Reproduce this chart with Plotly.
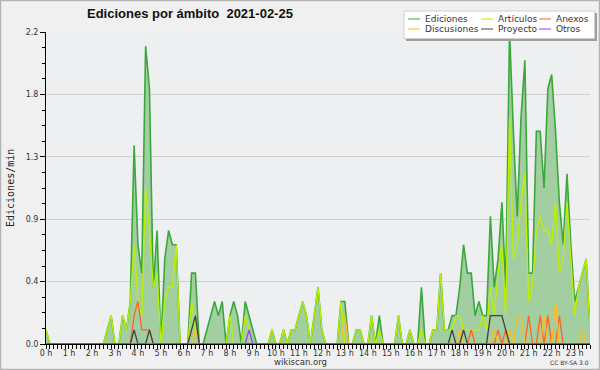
import plotly.graph_objects as go

# ---- data: one value per 10-minute step (index 0 = 00:00) ----
ediciones = [
    0.1, 0, 0, 0, 0, 0,            # 0 h
    0, 0, 0, 0, 0, 0,              # 1 h
    0, 0, 0, 0, 0.1, 0.2,          # 2 h
    0, 0, 0.2, 0.1, 0.3, 1.4,      # 3 h
    0.7, 0.5, 2.1, 1.8, 0.4, 0.8,  # 4 h
    0, 0.6, 0.8, 0.7, 0.7, 0,      # 5 h
    0, 0, 0.5, 0.5, 0, 0,          # 6 h
    0.1, 0.2, 0.3, 0.2, 0.3, 0,    # 7 h
    0.2, 0.3, 0.2, 0, 0.3, 0.2,    # 8 h
    0.1, 0, 0, 0, 0, 0.1,          # 9 h
    0, 0, 0.1, 0, 0.1, 0.1,        # 10 h
    0.2, 0.3, 0.2, 0, 0.2, 0.4,    # 11 h
    0.1, 0, 0, 0, 0, 0.3,          # 12 h
    0.3, 0, 0, 0.1, 0.1, 0,        # 13 h
    0, 0.2, 0, 0.2, 0, 0,          # 14 h
    0, 0, 0.2, 0, 0, 0.1,          # 15 h
    0, 0, 0.4, 0, 0, 0.1,          # 16 h
    0.1, 0.5, 0.1, 0.1, 0.2, 0.2,  # 17 h
    0.4, 0.7, 0.5, 0.5, 0.2, 0.3,  # 18 h
    0.2, 0.2, 0.9, 0.4, 0.6, 1.0,  # 19 h
    0.4, 2.2, 1.5, 0.9, 1.6, 2.0,  # 20 h
    0.5, 0.5, 1.5, 1.5, 1.1, 1.8,  # 21 h
    1.9, 1.5, 1.0, 0.7, 1.2, 0.7,  # 22 h
    0.3, 0.4, 0.5, 0.6, 0.1,       # 23 h
]
articulos = [
    0.1, 0, 0, 0, 0, 0,
    0, 0, 0, 0, 0, 0,
    0, 0, 0, 0, 0.1, 0.2,
    0, 0, 0.2, 0.1, 0.3, 0.7,
    0.3, 0.2, 1.1, 0.8, 0.4, 0.5,
    0, 0.3, 0.4, 0.4, 0.7, 0,
    0, 0, 0.3, 0.1, 0, 0,
    0, 0, 0, 0, 0, 0,
    0.2, 0, 0, 0, 0.2, 0.1,
    0, 0, 0, 0, 0, 0.1,
    0, 0, 0.1, 0, 0.1, 0.1,
    0.2, 0.3, 0.2, 0, 0.2, 0.4,
    0.1, 0, 0, 0, 0, 0.3,
    0, 0, 0, 0.1, 0.1, 0,
    0, 0.2, 0, 0.1, 0, 0,
    0, 0, 0.2, 0, 0, 0.1,
    0, 0, 0.1, 0, 0, 0.1,
    0.1, 0.5, 0.1, 0.1, 0.1, 0.2,
    0.2, 0.1, 0.1, 0.1, 0.1, 0.1,
    0.2, 0.1, 0.4, 0.2, 0.5, 0.7,
    0.2, 1.6, 0.6, 0.7, 1.0, 1.2,
    0.3, 0.4, 0.8, 0.9, 0.8, 0.8,
    0.7, 1.0, 0.5, 0.6, 1.0, 0.6,
    0.2, 0.4, 0.5, 0.6, 0.1,
]
anexos = [
    0, 0, 0, 0, 0, 0,
    0, 0, 0, 0, 0, 0,
    0, 0, 0, 0, 0, 0,
    0, 0, 0, 0, 0, 0.2,
    0.3, 0.1, 0.1, 0.1, 0, 0,
    0, 0, 0, 0, 0, 0,
    0, 0, 0, 0, 0, 0,
    0, 0, 0, 0, 0, 0,
    0, 0, 0, 0, 0, 0,
    0, 0, 0, 0, 0, 0,
    0, 0, 0, 0, 0, 0,
    0, 0, 0, 0, 0, 0,
    0, 0, 0, 0, 0, 0,
    0, 0, 0, 0, 0, 0,
    0, 0, 0, 0, 0, 0,
    0, 0, 0, 0, 0, 0,
    0, 0, 0, 0, 0, 0,
    0, 0, 0, 0, 0, 0,
    0, 0, 0, 0.1, 0, 0,
    0, 0, 0, 0, 0.1, 0,
    0.1, 0, 0, 0, 0, 0,
    0.2, 0, 0, 0.2, 0, 0.2,
    0, 0, 0.2, 0, 0, 0,
    0, 0, 0, 0, 0,
]
discusiones = [
    0, 0, 0, 0, 0, 0,
    0, 0, 0, 0, 0, 0,
    0, 0, 0, 0, 0, 0,
    0, 0, 0, 0, 0, 0,
    0, 0, 0, 0, 0, 0,
    0, 0, 0, 0, 0, 0,
    0, 0, 0, 0.1, 0, 0,
    0, 0, 0, 0, 0, 0,
    0, 0, 0, 0, 0, 0,
    0, 0, 0, 0, 0, 0,
    0, 0, 0, 0, 0, 0,
    0, 0, 0, 0, 0, 0,
    0, 0, 0, 0, 0, 0,
    0.2, 0, 0, 0, 0, 0,
    0, 0, 0, 0, 0, 0,
    0, 0, 0, 0, 0, 0,
    0, 0, 0, 0, 0, 0,
    0, 0, 0, 0, 0, 0,
    0.1, 0, 0, 0, 0, 0,
    0, 0, 0, 0.1, 0, 0,
    0, 0.1, 0, 0.2, 0.2, 0,
    0, 0, 0, 0, 0.2, 0,
    0, 0.3, 0, 0, 0, 0,
    0, 0, 0.1, 0, 0,
]
proyecto = [
    0, 0, 0, 0, 0, 0,
    0, 0, 0, 0, 0, 0,
    0, 0, 0, 0, 0, 0,
    0, 0, 0, 0, 0, 0.1,
    0, 0, 0, 0.1, 0, 0,
    0, 0, 0, 0, 0, 0,
    0, 0, 0.1, 0.2, 0, 0,
    0, 0, 0, 0, 0, 0,
    0, 0, 0, 0, 0, 0,
    0, 0, 0, 0, 0, 0,
    0, 0, 0, 0, 0, 0,
    0, 0, 0, 0, 0, 0,
    0, 0, 0, 0, 0, 0,
    0, 0, 0, 0, 0, 0,
    0, 0, 0, 0, 0, 0,
    0, 0, 0, 0, 0, 0,
    0, 0, 0, 0, 0, 0,
    0, 0, 0, 0, 0.1, 0,
    0, 0.1, 0, 0, 0, 0,
    0, 0, 0.2, 0.2, 0.2, 0.2,
    0.1, 0, 0, 0, 0, 0,
    0, 0, 0, 0, 0, 0,
    0, 0, 0, 0, 0, 0,
    0, 0, 0, 0, 0,
]
otros = [
    0, 0, 0, 0, 0, 0,
    0, 0, 0, 0, 0, 0,
    0, 0, 0, 0, 0, 0,
    0, 0, 0, 0, 0, 0,
    0, 0, 0, 0, 0, 0,
    0, 0, 0, 0, 0, 0,
    0, 0, 0, 0, 0, 0,
    0, 0, 0, 0, 0, 0,
    0, 0, 0, 0, 0, 0.1,
    0, 0, 0, 0, 0, 0,
    0, 0, 0, 0, 0, 0,
    0, 0, 0, 0, 0, 0,
    0, 0, 0, 0, 0, 0,
    0, 0, 0, 0, 0, 0,
    0, 0, 0, 0, 0, 0,
    0, 0, 0, 0, 0, 0,
    0, 0, 0, 0, 0, 0,
    0, 0, 0, 0, 0, 0,
    0, 0, 0, 0, 0, 0,
    0, 0, 0, 0, 0, 0,
    0, 0, 0, 0, 0, 0,
    0, 0, 0, 0, 0, 0,
    0, 0, 0, 0, 0, 0,
    0, 0, 0, 0, 0,
]
hour_labels = ["0 h", "1 h", "2 h", "3 h", "4 h", "5 h", "6 h", "7 h", "8 h", "9 h",
               "10 h", "11 h", "12 h", "13 h", "14 h", "15 h", "16 h", "17 h",
               "18 h", "19 h", "20 h", "21 h", "22 h", "23 h"]
steps_per_hour = 6
y_ticks = [0, 0.44, 0.88, 1.32, 1.76, 2.2]
y_ticktext = ["0.0", "0.4", "0.9", "1.3", "1.8", "2.2"]
title_text = "Ediciones por ámbito  2021-02-25"

# ---- styling ----
C_ED_LINE = "#3aa83a"
C_ED_FILL = "#a2cea2"
C_ART = "#bdf000"
C_ANE = "#ff6420"
C_DIS = "#ffbe1e"
C_PRO = "#404040"
C_OTR = "#9a3cff"

W_PX, H_PX = 600, 370
L, T, PW, PH = 46, 32, 544, 312
R, B = W_PX - L - PW, H_PX - T - PH

def px(x):
    return (x - L) / PW

def py(y):
    return (T + PH - y) / PH

x = list(range(len(ediciones)))

fig = go.Figure()
fig.add_trace(go.Scatter(x=x, y=ediciones, mode="lines", fill="tozeroy",
                         fillcolor=C_ED_FILL, line=dict(color=C_ED_LINE, width=1.6),
                         name="Ediciones", showlegend=False))
for vals, col, nm in [(articulos, C_ART, "Artículos"), (anexos, C_ANE, "Anexos"),
                      (discusiones, C_DIS, "Discusiones"), (proyecto, C_PRO, "Proyecto"),
                      (otros, C_OTR, "Otros")]:
    fig.add_trace(go.Scatter(x=x, y=vals, mode="lines", line=dict(color=col, width=1.3),
                             name=nm, showlegend=False))

tick_font = dict(family="DejaVu Sans", size=8, color="#333333")
fig.update_xaxes(range=[0, len(ediciones) - 1], showline=True, linecolor="black", linewidth=1,
                 ticks="outside", ticklen=4, tickcolor="black", ticklabelstandoff=-3,
                 tickvals=[h * steps_per_hour for h in range(len(hour_labels))],
                 ticktext=hour_labels, tickfont=tick_font, showgrid=False, zeroline=False,
                 minor=dict(dtick=1, tick0=0, ticks="outside", ticklen=4, tickcolor="black"),
                 fixedrange=True, automargin=False)
fig.update_yaxes(range=[0, 2.2], showline=True, linecolor="black", linewidth=1,
                 ticks="outside", ticklen=5, tickcolor="black",
                 tickvals=y_ticks, ticktext=y_ticktext, tickfont=tick_font,
                 showgrid=True, gridcolor="#cfcfcf", gridwidth=1, zeroline=False,
                 minor=dict(tickmode="array", tickvals=[k * 0.11 for k in range(21)],
                            ticks="outside", ticklen=3, tickcolor="black"),
                 fixedrange=True, automargin=False)

shapes = []
# outer frame
shapes.append(dict(type="rect", xref="paper", yref="paper", x0=px(0.5), x1=px(599.5),
                   y0=py(369.5), y1=py(0.5), line=dict(color="#b4b4b4", width=1.5)))
# legend shadow + box
shapes.append(dict(type="rect", xref="paper", yref="paper", x0=px(406), x1=px(597),
                   y0=py(41), y1=py(13), fillcolor="#a0a0a0", line=dict(width=0)))
shapes.append(dict(type="rect", xref="paper", yref="paper", x0=px(404), x1=px(594.5),
                   y0=py(38.5), y1=py(11), fillcolor="white",
                   line=dict(color="#d0d0d0", width=1)))
legend_items = [("Ediciones", C_ED_LINE, 408, 19), ("Artículos", C_ART, 481, 19),
                ("Anexos", C_ANE, 539, 19), ("Discusiones", C_DIS, 408, 29),
                ("Proyecto", C_PRO, 481, 29), ("Otros", C_OTR, 539, 29)]
annotations = []
for name, col, lx, ly in legend_items:
    shapes.append(dict(type="line", xref="paper", yref="paper", x0=px(lx), x1=px(lx + 12),
                       y0=py(ly), y1=py(ly), line=dict(color=col, width=1)))
    annotations.append(dict(xref="paper", yref="paper", x=px(lx + 15), y=py(ly),
                            xanchor="left", yanchor="middle", showarrow=False, text=name,
                            font=dict(family="DejaVu Sans", size=9, color="#333333")))

annotations.append(dict(xref="paper", yref="paper", x=px(85), y=py(14), xanchor="left",
                        yanchor="middle", showarrow=False, text="<b>" + title_text + "</b>",
                        font=dict(family="Liberation Sans", size=13, color="#111111")))
annotations.append(dict(xref="paper", yref="paper", x=px(10), y=0.5, xanchor="center",
                        yanchor="middle", showarrow=False, text="Ediciones/min", textangle=-90,
                        font=dict(family="DejaVu Sans Mono", size=10, color="#222222")))
annotations.append(dict(xref="paper", yref="paper", x=px(300), y=py(362), xanchor="center",
                        yanchor="middle", showarrow=False, text="wikiscan.org",
                        font=dict(family="DejaVu Sans", size=8.5, color="#333333")))
annotations.append(dict(xref="paper", yref="paper", x=px(569), y=py(362), xanchor="center",
                        yanchor="middle", showarrow=False, text="CC BY-SA 3.0",
                        font=dict(family="DejaVu Sans", size=6, color="#333333")))

fig.update_layout(width=W_PX, height=H_PX, margin=dict(l=L, r=R, t=T, b=B, pad=0),
                  paper_bgcolor="#f0f0f0", plot_bgcolor="#eeeff1",
                  shapes=shapes, annotations=annotations, showlegend=False)
fig.write_html("out.html", config={"displayModeBar": False},
               post_script="document.body.style.margin='0';document.body.style.padding='0';")
